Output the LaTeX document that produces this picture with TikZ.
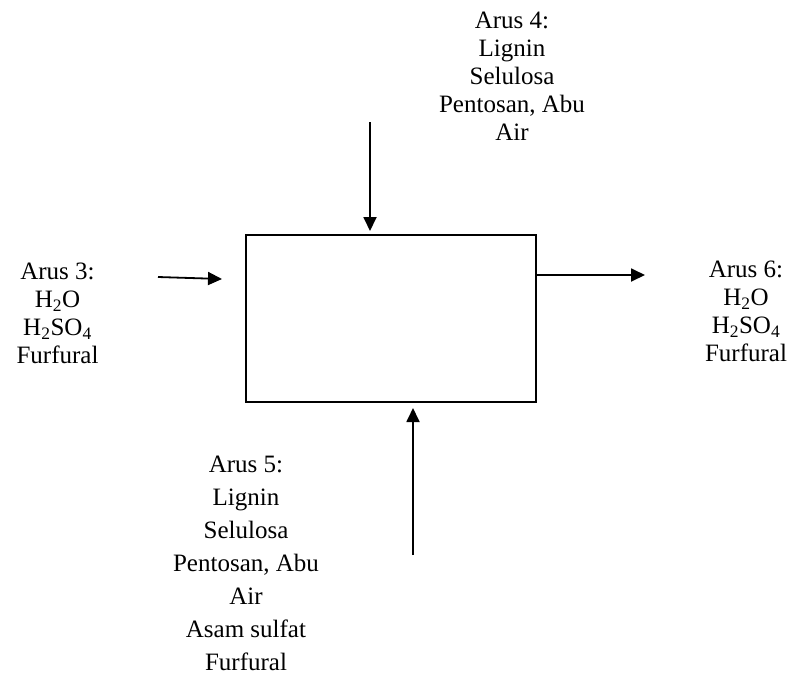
\documentclass[tikz,border=0pt]{standalone}
\usepackage{fontspec}
\setmainfont{Liberation Serif}
\usetikzlibrary{arrows.meta}
\tikzset{
  flow/.style={line width=1.8pt, -{Triangle[length=14pt,width=13pt]}},
  unit/.style={draw, line width=1.8pt, minimum width=290pt, minimum height=167pt, inner sep=0pt},
  stream/.style={align=center, inner sep=0pt, anchor=north},
  tight/.style={font=\fontsize{25}{28}\selectfont},
  loose/.style={font=\fontsize{25}{33}\selectfont}
}
\begin{document}
\begin{tikzpicture}[x=1pt,y=-1pt]
  \useasboundingbox (0,0) rectangle (795,678);
  % process unit
  \node[unit] (box) at (391,318.5) {};
  % stream descriptions (north anchor = first baseline minus cap height)
  \node[stream, tight] (s4) at (512,12.1)
    {Arus 4:\\Lignin\\Selulosa\\Pentosan, Abu\\Air};
  \node[stream, tight] (s3) at (57.5,263.1)
    {Arus 3:\\H\textsubscript{2}O\\H\textsubscript{2}SO\textsubscript{4}\\Furfural};
  \node[stream, tight] (s6) at (746,261.1)
    {Arus 6:\\H\textsubscript{2}O\\H\textsubscript{2}SO\textsubscript{4}\\Furfural};
  \node[stream, loose] (s5) at (246,456.1)
    {Arus 5:\\Lignin\\Selulosa\\Pentosan, Abu\\Air\\Asam sulfat\\Furfural};
  % arrow end points
  \coordinate (t4) at (370,122);
  \coordinate (h4) at (370,231);
  \coordinate (t3) at (158,277);
  \coordinate (h3) at (222,279);
  \coordinate (t6) at (box.east |- 0,275);
  \coordinate (h6) at (645,275);
  \coordinate (t5) at (413,555);
  \coordinate (h5) at (413,408);
  % streams
  \draw[flow] (t4) -- (h4);
  \draw[flow] (t3) -- (h3);
  \draw[flow] (t6) -- (h6);
  \draw[flow] (t5) -- (h5);
\end{tikzpicture}
\end{document}
